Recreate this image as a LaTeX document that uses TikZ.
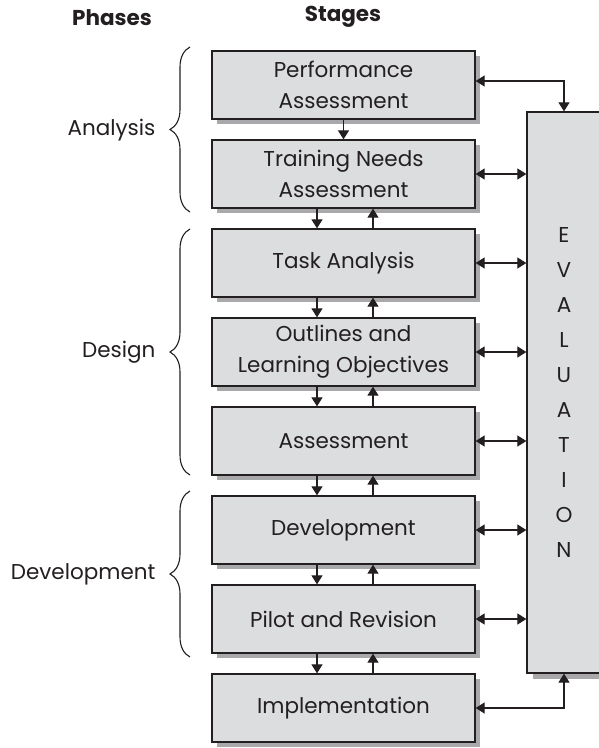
\documentclass[tikz,border=0pt]{standalone}
\usepackage{fontspec}
\setmainfont{Poppins}
\usetikzlibrary{arrows.meta,shadows,decorations.pathreplacing}
\definecolor{ink}{HTML}{231F20}
\definecolor{boxfill}{HTML}{DCDDDF}
\definecolor{shade}{HTML}{A9A9AB}
\begin{document}
\begin{tikzpicture}[x=1pt,y=-1pt,
  every node/.style={text=ink},
  stage/.style={draw=ink, line width=1.3pt, fill=boxfill,
    minimum width=263pt, minimum height=68pt, inner sep=0pt,
    align=center, font=\fontsize{21.5}{31}\selectfont,
    drop shadow={shadow xshift=5pt, shadow yshift=-5pt, fill=shade, opacity=1}},
  evalbox/.style={draw=ink, line width=1.3pt, fill=boxfill,
    minimum width=74pt, minimum height=561pt, inner sep=0pt,
    align=center, font=\fontsize{21.5}{34.9}\selectfont,
    drop shadow={shadow xshift=6pt, shadow yshift=-6pt, fill=shade, opacity=1}},
  phase/.style={anchor=east, font=\fontsize{21.5}{26}\selectfont},
  head/.style={font=\fontsize{21.5}{26}\selectfont\bfseries},
  arr/.style={draw=ink, line width=1.2pt, -{Triangle[length=9pt, width=11pt]}},
  darr/.style={draw=ink, line width=1.2pt, {Triangle[length=9pt, width=11pt]}-{Triangle[length=9pt, width=11pt]}},
  brace/.style={draw=ink, line width=1.1pt, decorate,
    decoration={brace, amplitude=20pt, aspect=0.5}}]

\useasboundingbox (0,0) rectangle (599,748);

% column headings
\node[head] (hphases) at (112,18) {Phases};
\node[head] (hstages) at (343,17) {Stages};

% the stages, top to bottom
\node[stage] (perf)   at (343.5,85)  {Performance\\Assessment};
\node[stage] (tna)    at (343.5,174) {Training Needs\\Assessment};
\node[stage] (task)   at (343.5,263) {Task Analysis};
\node[stage] (outl)   at (343.5,352) {Outlines and\\Learning Objectives};
\node[stage] (assess) at (343.5,441) {Assessment};
\node[stage] (devel)  at (343.5,530) {Development};
\node[stage] (pilot)  at (343.5,619) {Pilot and Revision};
\node[stage] (impl)   at (343.5,708) {Implementation};

% evaluation column
\node[evalbox] (eval) at (564,392.5) {E\\V\\A\\L\\U\\A\\T\\I\\O\\N};

% vertical links between stages
\coordinate (dn) at (317,0);
\coordinate (up) at (373,0);
\draw[arr] (perf.south) -- (tna.north);
\foreach \a/\b in {tna/task, task/outl, outl/assess, assess/devel, devel/pilot, pilot/impl}{
  \draw[arr] (\a.south -| dn) -- (\b.north -| dn);
  \draw[arr] (\b.north -| up) -- (\a.south -| up);
}

% links to evaluation
\foreach \s in {tna, task, outl, assess, devel, pilot}{
  \draw[darr] (\s.east) -- (\s.east -| eval.west);
}
\draw[darr] ([yshift=4pt]perf.east) -| (eval.north);
\draw[darr] (impl.east) -| (eval.south);

% phase braces
\coordinate (a1) at (190,212); \coordinate (a2) at (190,47);
\coordinate (d1) at (190,475); \coordinate (d2) at (190,229);
\coordinate (v1) at (190,657); \coordinate (v2) at (190,491);
\draw[brace] (a1) -- (a2);
\draw[brace] (d1) -- (d2);
\draw[brace] (v1) -- (v2);

\node[phase] (panal) at (159,130) {Analysis};
\node[phase] (pdes)  at (159,352) {Design};
\node[phase] (pdev)  at (159,574) {Development};
\end{tikzpicture}
\end{document}
